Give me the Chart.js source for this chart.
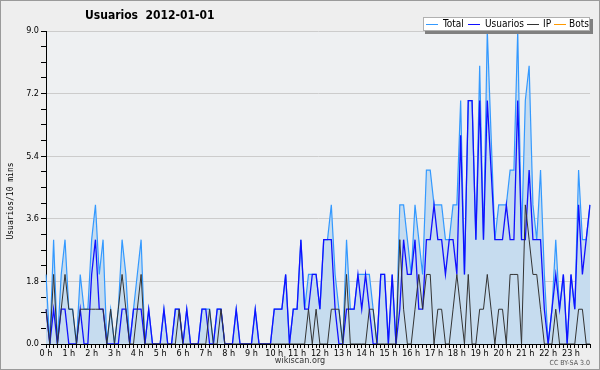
<!DOCTYPE html>
<html><head><meta charset="utf-8">
<script src="https://cdn.jsdelivr.net/npm/chart.js@4"></script>
<style>html,body{margin:0;padding:0;background:#eeeeee}canvas{display:block}</style>
</head><body>
<div style="width:600px;height:370px"><canvas id="c" width="600" height="370"></canvas></div>
<script>
const chartTitle = 'Usuarios  2012-01-01';
const yAxisLabel = 'Usuarios/10 mins';
const seriesNames = ['Total', 'Usuarios', 'IP', 'Bots'];
const hourLabels = ['0 h','1 h','2 h','3 h','4 h','5 h','6 h','7 h','8 h','9 h','10 h','11 h',
  '12 h','13 h','14 h','15 h','16 h','17 h','18 h','19 h','20 h','21 h','22 h','23 h'];
const yTickLabels = ['0.0','1.8','3.6','5.4','7.2','9.0'];
const minuteLabels = ['00','10','20','30','40','50'];

const total = [
  2,0,3,0,2,3,1,1,0,2,1,1,
  3,4,2,3,0,1,0,1,3,2,0,1,
  2,3,0,1,0,0,0,1,0,0,1,1,
  0,1,0,0,0,1,1,1,0,1,1,0,
  0,0,1,0,0,0,0,1,0,0,0,0,
  1,1,1,2,0,1,1,3,1,2,2,2,
  1,3,3,4,2,1,0,3,1,1,2,2,
  2,2,1,0,2,2,0,2,0,4,4,3,
  2,4,3,2,5,5,4,4,4,3,3,4,
  4,7,2,7,7,3,8,3,9,6,3,4,
  4,4,5,5,9,3,7,8,4,3,5,2,
  0,1,3,1,2,0,2,1,5,3,3,4];
const usuarios = [
  1,0,1,0,1,1,0,0,0,1,0,0,
  2,3,1,1,0,0,0,0,1,1,0,1,
  1,1,0,1,0,0,0,1,0,0,1,1,
  0,1,0,0,0,1,1,0,0,1,1,0,
  0,0,1,0,0,0,0,1,0,0,0,0,
  1,1,1,2,0,1,1,3,1,1,2,2,
  1,3,3,3,1,0,0,1,1,1,2,1,
  2,1,0,0,2,2,0,2,0,1,3,2,
  2,3,1,1,3,3,4,3,3,2,3,3,
  2,6,2,7,7,3,7,3,7,5,3,3,
  3,4,3,3,7,3,3,5,3,3,3,1,
  0,1,2,1,2,0,2,1,4,2,3,4];
const ip = [
  1,0,2,0,1,2,1,1,0,1,1,1,
  1,1,1,1,0,1,0,1,2,1,0,0,
  1,2,0,0,0,0,0,0,0,0,0,1,
  0,0,0,0,0,0,0,1,0,0,1,0,
  0,0,0,0,0,0,0,0,0,0,0,0,
  0,0,0,0,0,0,0,0,0,1,0,1,
  0,0,0,1,1,1,0,2,0,0,0,0,
  0,1,1,0,0,0,0,0,0,3,1,0,
  0,1,2,1,2,2,0,1,1,0,0,1,
  2,1,0,2,0,0,1,1,2,1,0,1,
  1,0,2,2,2,0,4,3,2,2,1,0,
  0,0,1,0,0,0,0,0,1,1,0,0];
const bots = [
  0,0,0,0,0,0,0,0,0,0,0,0, 0,0,0,0,0,0,0,0,0,0,0,0,
  0,0,0,0,0,0,0,0,0,0,0,0, 0,0,0,0,0,0,0,0,0,0,0,0,
  0,0,0,0,0,0,0,0,0,0,0,0, 0,0,0,0,0,0,0,0,0,0,0,0,
  0,0,0,0,0,0,0,0,0,0,0,0, 0,0,0,0,0,0,0,0,0,0,0,0,
  0,0,0,0,0,0,0,0,0,0,0,0, 0,0,0,0,0,0,0,0,0,0,0,0,
  0,0,0,0,0,0,0,0,0,0,0,0, 0,0,0,0,0,0,0,0,0,0,0,0];

const slots = [];
hourLabels.forEach(h => minuteLabels.forEach(m => slots.push(h + m)));

const colors = { Total: '#3399ff', Usuarios: '#1010ff', IP: '#333333', Bots: '#ff9900' };
const FONT = '"DejaVu Sans Condensed", "DejaVu Sans", sans-serif';

const decor = {
  id: 'decor',
  beforeDraw(chart) {
    const ctx = chart.ctx, a = chart.chartArea;
    ctx.save();
    ctx.fillStyle = '#eeeeee';
    ctx.fillRect(0, 0, chart.width, chart.height);
    ctx.fillStyle = '#eef0f2';
    ctx.fillRect(a.left, a.top, a.right - a.left, a.bottom - a.top);
    ctx.restore();
  },
  afterDraw(chart) {
    const ctx = chart.ctx, a = chart.chartArea;
    ctx.save();
    // title
    ctx.fillStyle = '#000';
    ctx.font = 'bold 12px ' + FONT;
    ctx.textBaseline = 'middle';
    ctx.textAlign = 'left';
    ctx.fillText(chartTitle, 85, 16);
    // y label
    ctx.save();
    ctx.translate(11, 201);
    ctx.rotate(-Math.PI / 2);
    ctx.textAlign = 'center';
    ctx.font = '8px "DejaVu Sans Mono", monospace';
    ctx.fillText(yAxisLabel, 0, 0);
    ctx.restore();
    // footer
    ctx.textAlign = 'center';
    ctx.font = '9px ' + FONT;
    ctx.fillStyle = '#333';
    ctx.fillText('wikiscan.org', 300, 361);
    ctx.textAlign = 'right';
    ctx.font = '7px ' + FONT;
    ctx.fillStyle = '#555';
    ctx.fillText('CC BY-SA 3.0', 590, 363);
    // legend
    const bx = 423, by = 17, bw = 167, bh = 14;
    ctx.fillStyle = '#808080';
    ctx.fillRect(bx + 2, by + 2, bw + 1, bh + 1);
    ctx.fillStyle = '#ffffff';
    ctx.fillRect(bx, by, bw, bh);
    ctx.strokeStyle = '#b0b0b0';
    ctx.lineWidth = 1;
    ctx.strokeRect(bx + 0.5, by + 0.5, bw - 1, bh - 1);
    ctx.font = '10px ' + FONT;
    ctx.textAlign = 'left';
    ctx.textBaseline = 'middle';
    const lineX = [426, 468, 527, 554];
    const textX = [443, 485, 543, 569];
    const y = by + bh / 2;
    seriesNames.forEach((n, k) => {
      ctx.strokeStyle = colors[n];
      ctx.lineWidth = 1;
      ctx.beginPath();
      ctx.moveTo(lineX[k], Math.round(y) + 0.5);
      ctx.lineTo(lineX[k] + 12, Math.round(y) + 0.5);
      ctx.stroke();
      ctx.fillStyle = '#000';
      ctx.fillText(n, textX[k], y + 0.5);
    });
    // frame
    ctx.strokeStyle = '#9a9a9a';
    ctx.lineWidth = 1;
    ctx.strokeRect(0.5, 0.5, chart.width - 1, chart.height - 1);
    ctx.restore();
  }
};

new Chart(document.getElementById('c'), {
  type: 'line',
  data: {
    labels: slots,
    datasets: [
      { label: 'IP', data: ip, borderColor: colors.IP, borderWidth: 1, fill: false, order: 1 },
      { label: 'Usuarios', data: usuarios, borderColor: colors.Usuarios, borderWidth: 1.3, fill: false, order: 2 },
      { label: 'Total', data: total, borderColor: colors.Total, backgroundColor: '#c6dcef', borderWidth: 1.2, fill: 'origin', order: 3 },
      { label: 'Bots', data: bots, borderColor: colors.Bots, borderWidth: 1, fill: false, order: 4 }
    ]
  },
  options: {
    responsive: false,
    animation: false,
    devicePixelRatio: 1,
    layout: { padding: { top: 31, right: 10, left: 0, bottom: 0 } },
    elements: { point: { radius: 0 }, line: { tension: 0 } },
    plugins: { legend: { display: false }, title: { display: false }, tooltip: { enabled: false } },
    scales: {
      x: {
        type: 'category',
        offset: false,
        z: 1,
        border: { display: true, color: '#000', width: 1 },
        grid: { display: true, drawOnChartArea: false, tickColor: '#000', tickLength: 4 },
        ticks: {
          autoSkip: false, maxRotation: 0, minRotation: 0, padding: 0,
          color: '#000', font: { size: 9, family: FONT },
          callback: (v, i) => (i % 6 === 0 ? hourLabels[i / 6] : '')
        },
        afterFit: s => { s.height = 26; }
      },
      y: {
        min: 0, max: 9,
        border: { display: true, color: '#000', width: 1 },
        grid: {
          color: c => {
            const v = c.tick ? c.tick.value : 0;
            const k = Math.round(v / 1.8);
            return (Math.abs(v - k * 1.8) < 1e-6 && v > 0) ? '#cccccc' : 'rgba(0,0,0,0)';
          },
          tickColor: '#000', tickLength: 5, lineWidth: 1
        },
        ticks: {
          stepSize: 0.45, autoSkip: false, padding: 2, color: '#000',
          font: { size: 9, family: FONT },
          callback: v => {
            const k = Math.round(v / 1.8);
            return Math.abs(v - k * 1.8) < 1e-6 ? yTickLabels[k] : '';
          }
        },
        afterFit: s => { s.width = 46; }
      }
    }
  },
  plugins: [decor]
});
</script>
</body></html>
